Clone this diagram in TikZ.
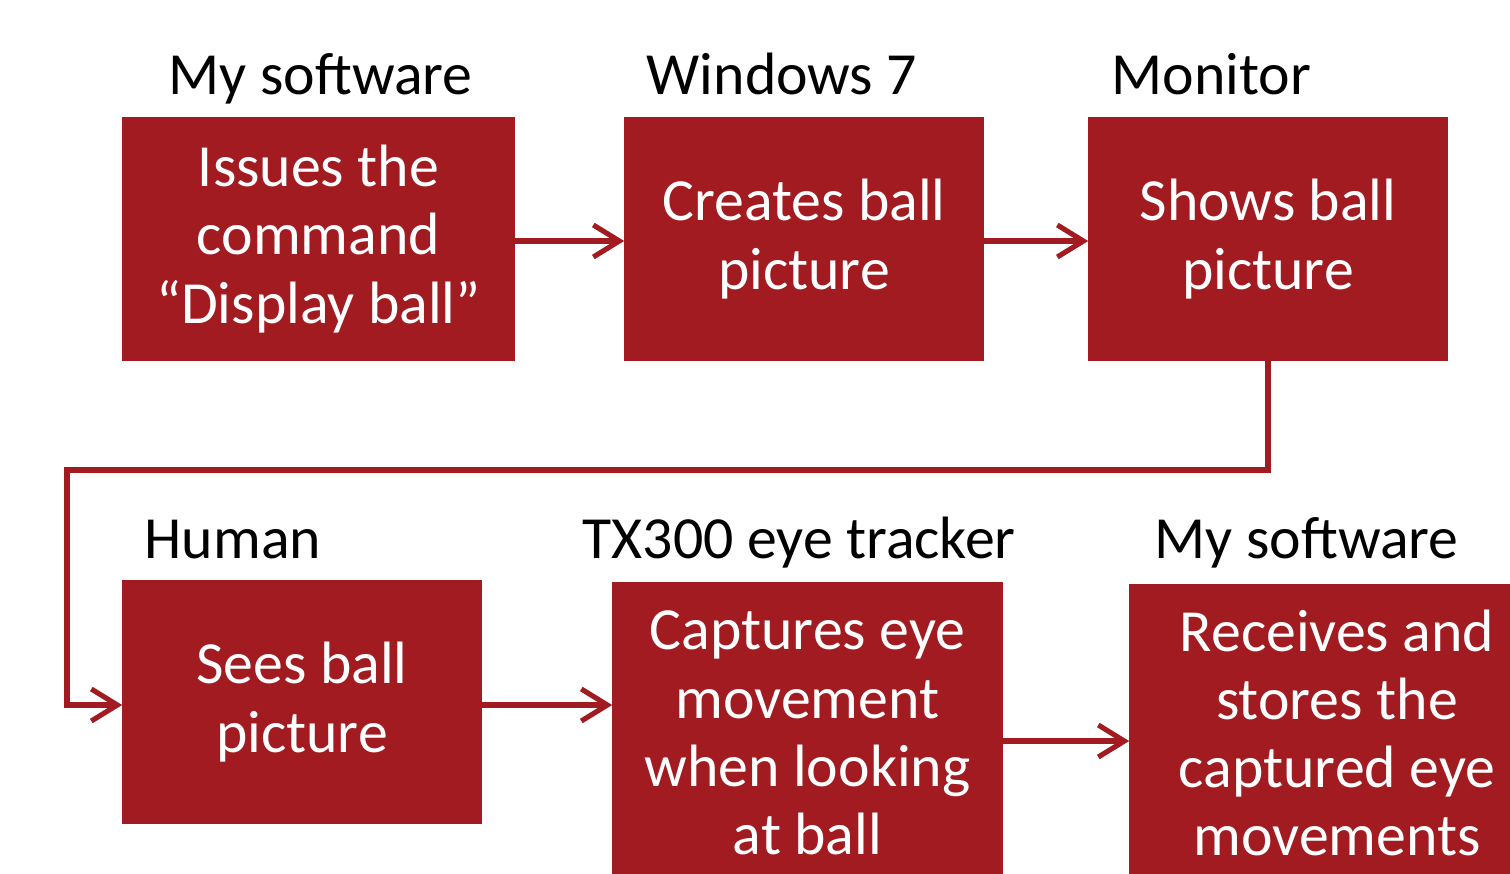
\documentclass[tikz,border=0pt]{standalone}
\usepackage{fontspec}
\setmainfont{Carlito}
\usepackage{xcolor}
\usetikzlibrary{arrows.meta}
\definecolor{boxred}{RGB}{161,27,32}

\begin{document}
\begin{tikzpicture}[x=0.01cm,y=-0.01cm,
  font=\fontsize{17}{19.4}\selectfont,
  stage/.style={draw=boxred,fill=boxred,text=white,align=center,inner sep=0pt},
  title/.style={anchor=base west,inner sep=0pt,text=black},
  link/.style={boxred,line width=1.45pt,-{Straight Barb[length=2.6mm,width=3.2mm]}}]
\useasboundingbox (0,0) rectangle (1510,873);
\clip (0,0) rectangle (1510,873);

\node[stage,minimum width=3.91cm,minimum height=2.42cm] (issue) at (318.5,239) {Issues the\\command\\``Display ball''};
\node[stage,minimum width=3.58cm,minimum height=2.42cm] (create) at (804,239) {Creates ball\\picture};
\node[stage,minimum width=3.58cm,minimum height=2.42cm] (show) at (1268,239) {Shows ball\\picture};
\node[stage,minimum width=3.58cm,minimum height=2.42cm] (see) at (302,702) {Sees ball\\picture};
\node[stage,minimum width=3.89cm,minimum height=3.00cm] (capture) at (807.5,733) {Captures eye\\movement\\when looking\\at ball};
\node[stage,minimum width=4.14cm,minimum height=2.96cm] (store) at (1337,733) {Receives and\\stores the\\captured eye\\movements};

\node[title] (t1) at (168,95) {My software};
\node[title] (t2) at (646,95) {Windows 7};
\node[title] (t3) at (1111,95) {Monitor};
\node[title] (t4) at (144,558) {Human};
\node[title] (t5) at (582,558) {TX300 eye tracker};
\node[title] (t6) at (1154,558) {My software};

\coordinate (turn) at (67,470);
\draw[link] ([yshift=-0.02cm]issue.east) -- ([yshift=-0.02cm]issue.east -| create.west);
\draw[link] ([yshift=-0.02cm]create.east) -- ([yshift=-0.02cm]create.east -| show.west);
\draw[link] (show.south) |- (turn) |- ([yshift=-0.03cm]see.west);
\draw[link] ([yshift=-0.03cm]see.east) -- ([yshift=-0.03cm]see.east -| capture.west);
\draw[link] ([yshift=-0.08cm]capture.east) -- ([yshift=-0.08cm]capture.east -| store.west);
\end{tikzpicture}
\end{document}
